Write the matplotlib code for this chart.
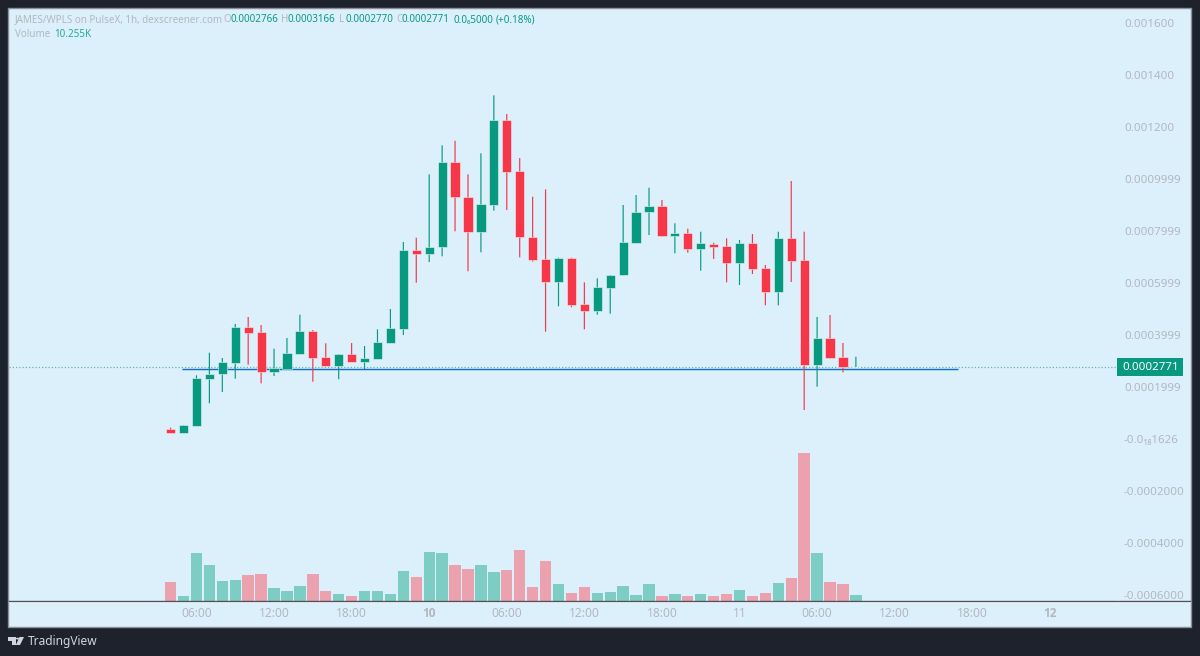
import matplotlib
matplotlib.use('Agg')
import matplotlib.pyplot as plt
from matplotlib.patches import Rectangle, Polygon, Circle
import numpy as np

plt.rcParams['font.family'] = ['Noto Sans', 'DejaVu Sans']

# candles, prices in millionths of a unit, one per hour starting 04:00 on the 9th
opens = [37.3, 24.2, 51.2, 231.9, 250.0, 293.4, 429.6, 410.4, 258.8, 268.1, 328.1, 416.5, 314.2, 281.9,
         326.9, 297.3, 308.8, 370.4, 424.2, 726.9, 712.7, 737.3, 1065.3, 930.7, 795.0, 901.1, 1228.0,
         1030.7, 778.1, 692.3, 603.8, 697.3, 519.2, 491.1, 580.7, 629.6, 755.0, 871.9, 896.1, 781.9,
         793.4, 730.7, 751.1, 742.3, 676.9, 753.8, 656.5, 565.4, 774.2, 688.4, 284.6, 388.4, 315.4, 276.6]
closes = [24.2, 52.7, 234.6, 250.0, 296.1, 430.8, 408.8, 258.8, 274.2, 330.8, 416.5, 312.7, 281.9, 326.9,
          297.3, 311.5, 371.9, 425.8, 726.9, 712.7, 739.6, 1065.3, 930.7, 795.0, 902.6, 1228.0, 1028.0,
          776.9, 689.6, 602.7, 697.3, 515.4, 491.1, 583.4, 630.7, 758.8, 873.0, 896.1, 781.9, 794.2,
          731.9, 752.7, 739.6, 676.9, 755.0, 655.0, 565.4, 774.2, 685.7, 284.6, 388.4, 312.7, 275.8, 277.1]
highs = [43.5, 52.7, 245.0, 331.9, 311.5, 442.3, 469.2, 438.4, 347.3, 388.4, 478.1, 419.2, 368.1, 326.9,
         369.2, 357.7, 421.9, 500.0, 757.7, 774.2, 1018.0, 1129.6, 1147.3, 1018.0, 1098.8, 1321.9, 1250.0,
         1080.7, 931.9, 960.3, 697.3, 697.3, 602.7, 618.1, 630.7, 900.0, 938.4, 966.5, 919.2, 829.6,
         808.8, 797.3, 755.0, 771.9, 765.4, 788.4, 669.2, 797.3, 992.3, 797.3, 469.2, 476.9, 369.2, 316.6]
lows = [24.2, 24.2, 51.2, 137.3, 180.8, 231.9, 285.8, 214.2, 242.3, 268.1, 328.1, 220.4, 281.9, 229.6,
        297.3, 269.2, 308.8, 370.4, 400.0, 601.1, 680.7, 702.7, 798.8, 645.0, 718.0, 878.0, 880.7,
        698.8, 681.9, 412.7, 510.4, 506.5, 421.9, 478.1, 481.9, 629.6, 752.7, 784.6, 778.1, 714.2,
        716.5, 647.3, 692.3, 602.7, 592.3, 634.6, 514.2, 514.2, 603.8, 111.5, 201.1, 308.8, 256.5, 276.6]
# volume in thousands
volumes = [33.2, 7.8, 86.8, 64.5, 34.4, 37.4, 46.4, 47.6, 22.3, 18.1, 25.9, 47.6, 16.9, 12.1, 7.8, 18.1,
           16.3, 12.1, 53.7, 42.2, 88.6, 85.6, 64.5, 56.7, 64.5, 51.3, 56.1, 91.7, 24.1, 70.6, 29.5, 13.3,
           24.1, 13.3, 15.1, 27.1, 10.3, 29.5, 8.4, 12.1, 9.0, 12.1, 7.8, 11.5, 19.3, 9.0, 13.3, 31.4,
           40.4, 267.7, 86.8, 33.2, 30.2, 10.255]

last_price = 0.0002771
level_price = 0.000268
level_start = 0.88
level_end = 60.9

time_pos = [2, 8, 14, 20, 26, 32, 38, 44, 50, 56, 62, 68]
time_labels = ['06:00', '12:00', '18:00', '10', '06:00', '12:00', '18:00', '11', '06:00', '12:00', '18:00', '12']
price_pos = [0.0016, 0.0014, 0.0012, 0.001, 0.0008, 0.0006, 0.0004, 0.0002, 0.0, -0.0002, -0.0004, -0.0006]
price_labels = ['0.001600', '0.001400', '0.001200', '0.0009999', '0.0007999', '0.0005999', '0.0003999',
                '0.0001999', '-0.0\u2081\u20881626', '-0.0002000', '-0.0004000', '-0.0006000']

BG = '#dcf0fc'
DARK = '#1e222d'
GREEN = '#089981'
RED = '#f63649'
GREEN_V = '#7ecdc4'
RED_V = '#eba1ae'
GREY = '#b4b7c0'

W, H = 1200, 656
fig = plt.figure(figsize=(W / 100, H / 100), dpi=100, facecolor=DARK)


def fx(px):
    return px / W


def fy(py):
    return 1 - py / H


# panel background and time axis strip
fig.add_artist(Rectangle((fx(8), fy(627)), fx(1183), 619 / H, transform=fig.transFigure,
                         facecolor=BG, edgecolor='#8b909b', linewidth=1))

left, right, top, bottom = 9, 1190, 9, 600.5
ax = fig.add_axes([fx(left), fy(bottom), fx(right - left), (bottom - top) / H], facecolor='none')

# pixel scales of the original chart
x0, dx = 170.6, 12.93
ax.set_xlim((left - x0) / dx, (right - x0) / dx)
per_px = 0.0002 / 52
ax.set_ylim((439 - bottom) * per_px, (439 - top) * per_px)

o = np.array(opens) * 1e-6
c = np.array(closes) * 1e-6
hi = np.array(highs) * 1e-6
lo = np.array(lows) * 1e-6
x = np.arange(len(o))
colors = [GREEN if b >= a else RED for a, b in zip(o, c)]

# volume sits on its own scale under the candles
vol_ax = ax.twinx()
vol_ax.set_ylim(0, (bottom - top) * 1.81)
vol_ax.bar(x, volumes, width=0.88, color=[GREEN_V if k == GREEN else RED_V for k in colors], linewidth=0)
vol_ax.axis('off')
vol_ax.set_zorder(1)
ax.set_zorder(2)

ax.hlines(last_price, ax.get_xlim()[0], (1117 - x0) / dx, color='#5fb9ac', linewidth=0.9, linestyle=(0, (1, 1.6)), zorder=1)
ax.hlines(level_price, level_start, level_end, color='#a9dce6', linewidth=2.0, zorder=1)
ax.hlines(level_price, level_start, level_end, color='#1d68c4', linewidth=0.8, zorder=1)

wicks = ax.vlines(x, lo, hi, colors=colors, linewidth=0.85, zorder=3)
wicks.set_snap(False)
ax.bar(x, np.maximum(np.abs(c - o), 1e-7), bottom=np.minimum(o, c), width=0.71,
       color=colors, edgecolor=(1, 1, 1, 0.55), linewidth=0.6, zorder=4)

ax.set_xticks(time_pos)
ax.set_xticklabels(time_labels, fontsize=8.6, color=GREY)
for lab, txt in zip(ax.get_xticklabels(), time_labels):
    if txt in ('10', '12'):
        lab.set_fontfamily(['Open Sans', 'DejaVu Sans'])
        lab.set_fontweight('bold')
ax.tick_params(axis='x', length=0, pad=4.5)
ax.yaxis.tick_right()
ax.set_yticks(price_pos)
ax.set_yticklabels(price_labels, fontsize=8.3, color=GREY)
ax.tick_params(axis='y', length=0, pad=-(right - 1124) * 0.72)
for lab in ax.get_yticklabels():
    lab.set_horizontalalignment('left')

for s in ax.spines.values():
    s.set_visible(False)
ax.spines['bottom'].set_visible(True)
ax.spines['bottom'].set_color('#50535e')
ax.spines['bottom'].set_linewidth(1)
fig.add_artist(plt.Line2D([fx(9), fx(1190)], [fy(601.8), fy(601.8)], transform=fig.transFigure,
                          color='#ffffff', linewidth=0.9))
fig.add_artist(plt.Line2D([fx(1117.5), fx(1117.5)], [fy(599.5), fy(602)], transform=fig.transFigure,
                          color='#ffffff', linewidth=0.9))

# last price tag
fig.add_artist(Rectangle((fx(1117), fy(376)), 66 / W, 18 / H, transform=fig.transFigure,
                         facecolor=GREEN, edgecolor='none'))
fig.text(fx(1150.5), fy(367.3), '0.0002771', color='white', fontsize=8.3, fontweight='medium', ha='center', va='center')

# header legend
head_size = 7.1
fig.text(fx(15), fy(20), 'JAMES/WPLS on PulseX, 1h, dexscreener.com', color=GREY, fontsize=head_size, va='center')
fig.text(fx(15), fy(34.5), 'Volume', color=GREY, fontsize=head_size, va='center')
fig.text(fx(54), fy(34.5), '10.255K', color='#22ab94', fontsize=head_size, va='center')
for px, tag in zip([223, 281, 339, 396], 'OHLC'):
    fig.text(fx(px), fy(20), tag, color=GREY, fontsize=head_size, va='center')
for px, val in zip([230, 288, 345, 402], ['0.0002766', '0.0003166', '0.0002770', '0.0002771']):
    fig.text(fx(px), fy(20), val, color=GREEN, fontsize=head_size, va='center')
fig.text(fx(453), fy(20), '0.0\u20865000', color=GREEN, fontsize=head_size, va='center')
fig.text(fx(496), fy(20), '(+0.18%)', color=GREEN, fontsize=head_size, va='center')

# TradingView logo and name
logo = '#d1d4dc'
for pts in ([(8, 637), (15.5, 637), (15.5, 645), (12, 645), (12, 640.5), (8, 640.5)],
            [(19.5, 637), (24, 637), (20, 645), (15.8, 645)]):
    fig.add_artist(Polygon([(fx(a), fy(b)) for a, b in pts], transform=fig.transFigure, facecolor=logo, edgecolor='none'))
fig.add_artist(Circle((fx(17.6), fy(638.6)), 1.7 / W, transform=fig.transFigure, facecolor=logo, edgecolor='none'))
fig.text(fx(28), fy(641.3), 'TradingView', color=logo, fontsize=8.6, va='center')

fig.savefig('out.png', dpi=100, facecolor=DARK)
